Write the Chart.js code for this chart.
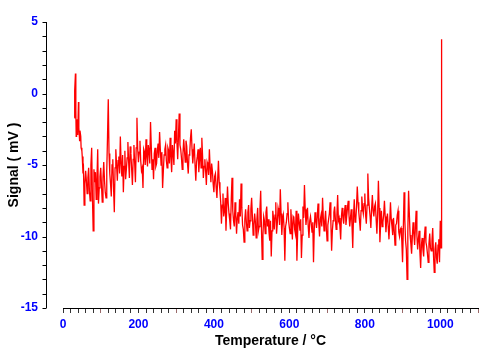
<!DOCTYPE html>
<html>
<head>
<meta charset="utf-8">
<script src="https://cdn.jsdelivr.net/npm/chart.js@4/dist/chart.umd.min.js"></script>
<style>
	html, body { margin: 0; padding: 0; background: #fff; }
	canvas { display: block; }
</style>
</head>
<body>
<canvas id="chart1" width="500" height="353"></canvas>
<script>
// Temperature (°C)
const temperature = [
	30, 31, 33, 34, 35, 36, 38, 39, 41, 42, 44, 45, 47, 48, 50, 51, 53, 54, 56, 58,
	60, 62, 64, 66, 68, 70, 72, 74, 76, 78, 80, 82, 84, 86, 88, 90, 92, 94, 96, 98,
	100, 102, 104, 106, 108, 110, 112, 114, 116, 118, 120, 122, 124, 126, 128, 130, 132, 134, 136, 138,
	140, 142, 144, 146, 148, 150, 152, 154, 156, 158, 160, 162, 164, 166, 168, 170, 172, 174, 176, 178,
	180, 182, 184, 186, 188, 190, 192, 194, 196, 198, 200, 202, 204, 206, 208, 210, 212, 214, 216, 218,
	220, 222, 224, 226, 228, 230, 232, 234, 236, 238, 240, 242, 244, 246, 248, 250, 252, 254, 256, 258,
	260, 262, 264, 266, 268, 270, 272, 274, 276, 278, 280, 282, 284, 286, 288, 290, 292, 294, 296, 298,
	300, 302, 304, 306, 308, 310, 312, 314, 316, 318, 320, 322, 324, 326, 328, 330, 332, 334, 336, 338,
	340, 342, 344, 346, 348, 350, 352, 354, 356, 358, 360, 362, 364, 366, 368, 370, 372, 374, 376, 378,
	380, 382, 384, 386, 388, 390, 392, 394, 396, 398, 400, 402, 404, 406, 408, 410, 412, 414, 416, 418,
	420, 422, 424, 426, 428, 430, 432, 434, 436, 438, 440, 442, 444, 446, 448, 450, 452, 454, 456, 458,
	460, 462, 464, 466, 468, 470, 472, 474, 476, 478, 480, 482, 484, 486, 488, 490, 492, 494, 496, 498,
	500, 502, 504, 506, 508, 510, 512, 514, 516, 518, 520, 522, 524, 526, 528, 530, 532, 534, 536, 538,
	540, 542, 544, 546, 548, 550, 552, 554, 556, 558, 560, 562, 564, 566, 568, 570, 572, 574, 576, 578,
	580, 582, 584, 586, 588, 590, 592, 594, 596, 598, 600, 602, 604, 606, 608, 610, 612, 614, 616, 618,
	620, 622, 624, 626, 628, 630, 632, 634, 636, 638, 640, 642, 644, 646, 648, 650, 652, 654, 656, 658,
	660, 662, 664, 666, 668, 670, 672, 674, 676, 678, 680, 682, 684, 686, 688, 690, 692, 694, 696, 698,
	700, 702, 704, 706, 708, 710, 712, 714, 716, 718, 720, 722, 724, 726, 728, 730, 732, 734, 736, 738,
	740, 742, 744, 746, 748, 750, 752, 754, 756, 758, 760, 762, 764, 766, 768, 770, 772, 774, 776, 778,
	780, 782, 784, 786, 788, 790, 792, 794, 796, 798, 800, 802, 804, 806, 808, 810, 812, 814, 816, 818,
	820, 822, 824, 826, 828, 830, 832, 834, 836, 838, 840, 842, 844, 846, 848, 850, 852, 854, 856, 858,
	860, 862, 864, 866, 868, 870, 872, 874, 876, 878, 880, 882, 884, 886, 888, 890, 892, 894, 896, 898,
	900, 902, 904, 906, 908, 910, 912, 914, 916, 918, 920, 922, 924, 926, 928, 930, 932, 934, 936, 938,
	940, 942, 944, 946, 948, 950, 952, 954, 956, 958, 960, 962, 964, 966, 968, 970, 972, 974, 976, 978,
	980, 982, 984, 986, 988, 990, 992, 994, 996, 998, 1000,
	1002, 1003, 1004
];

// Signal (mV), same order as temperature
const signal = [
	-1.7, 0.2, 1.4, -1.2, -3.0, -2.2, -1.8, -2.9, -0.6, -2.4, -3.3, -2.6, -3.0, -3.8, -4.0, -4.4, -5.6, -4.9, -7.8, -6.3,
	-5.4, -6.1, -7.0, -5.9, -5.2, -6.8, -7.5, -5.0, -3.8, -7.2, -9.6, -5.3, -6.2, -5.5, -7.4, -6.0, -3.9, -7.7, -6.6, -5.8,
	-5.2, -6.4, -7.6, -5.9, -4.8, -6.1, -6.9, -7.3, -5.4, -3.0, -0.4, -4.2, -5.6, -6.3, -7.2, -5.0, -4.6, -6.6, -8.3, -5.2,
	-3.9, -5.0, -6.1, -4.7, -4.4, -5.6, -3.0, -4.9, -5.8, -4.3, -6.9, -5.1, -4.0, -6.0, -5.3, -4.5, -3.4, -4.8, -5.9, -3.7,
	-4.2, -5.3, -6.4, -4.6, -3.6, -4.9, -6.2, -3.8, -1.7, -3.9, -4.8, -4.1, -3.3, -4.7, -5.4, -5.2, -6.6, -3.9, -4.1, -5.0,
	-3.2, -4.4, -5.1, -3.6, -4.0, -4.9, -2.0, -3.7, -5.3, -4.6, -6.0, -4.2, -3.8, -5.1, -4.9, -4.0, -3.5, -4.5, -2.7, -3.9,
	-5.0, -4.1, -6.6, -5.4, -4.3, -3.9, -3.6, -4.7, -5.2, -3.8, -4.0, -4.9, -3.1, -4.4, -5.5, -3.6, -4.2, -5.0, -2.6, -3.5,
	-1.8, -3.4, -4.6, -3.0, -1.4, -3.6, -3.9, -4.5, -5.3, -4.2, -3.2, -4.0, -4.8, -3.3, -3.7, -4.9, -5.6, -4.3, -4.1, -3.1,
	-2.5, -3.9, -4.9, -4.2, -3.5, -5.0, -6.1, -4.8, -4.4, -3.9, -5.5, -4.6, -3.8, -5.2, -3.1, -4.4, -5.9, -5.1, -4.6, -5.4,
	-6.4, -4.8, -5.0, -5.7, -3.9, -5.2, -6.2, -4.9, -5.4, -6.3, -6.9, -5.8, -5.6, -6.6, -7.3, -6.0, -4.7, -6.2, -6.8, -7.6,
	-9.1, -7.8, -7.0, -8.6, -8.2, -7.3, -9.6, -8.0, -6.5, -7.7, -8.4, -8.9, -9.5, -7.4, -5.9, -8.2, -8.9, -9.3, -7.6, -8.5,
	-9.8, -8.7, -8.3, -9.1, -7.4, -8.6, -6.3, -8.0, -9.2, -9.5, -10.4, -8.8, -8.1, -9.0, -9.6, -8.3, -7.8, -9.4, -8.9, -8.1,
	-7.3, -8.6, -9.9, -9.2, -8.4, -9.0, -10.1, -8.8, -8.0, -9.6, -9.3, -8.1, -6.8, -9.4, -11.6, -9.9, -8.6, -8.9, -9.8, -8.3,
	-7.9, -9.3, -8.8, -9.7, -10.3, -8.9, -11.4, -9.6, -8.2, -8.7, -9.5, -8.5, -7.6, -9.8, -9.1, -8.0, -8.3, -9.2, -6.7, -8.4,
	-9.9, -8.8, -8.5, -9.4, -11.7, -9.3, -9.0, -8.4, -7.6, -8.9, -9.4, -9.8, -8.1, -9.1, -10.2, -8.6, -8.7, -9.5, -9.8, -8.2,
	-11.7, -9.7, -8.4, -9.0, -9.6, -8.8, -11.5, -9.9, -7.9, -8.7, -6.4, -8.1, -9.2, -8.6, -8.0, -9.3, -10.1, -8.9, -8.6, -9.1,
	-9.7, -9.0, -11.8, -9.5, -8.3, -8.9, -9.4, -8.6, -7.7, -9.1, -10.0, -8.8, -8.5, -9.3, -7.3, -8.7, -9.6, -8.9, -8.2, -9.4,
	-10.3, -9.2, -8.8, -8.4, -7.6, -9.0, -11.0, -9.6, -8.9, -8.3, -7.9, -8.8, -9.5, -8.5, -7.1, -8.9, -8.7, -9.3, -10.2, -8.6,
	-8.0, -8.7, -9.1, -8.3, -7.8, -9.2, -8.6, -8.0, -7.5, -8.5, -9.3, -8.7, -8.1, -9.2, -10.8, -8.6, -7.4, -9.0, -8.9, -7.9,
	-6.5, -7.6, -8.3, -8.9, -9.6, -8.2, -7.2, -8.0, -8.4, -7.7, -7.0, -8.5, -9.1, -7.8, -5.6, -7.3, -8.0, -8.6, -9.4, -8.1,
	-7.1, -8.2, -8.6, -7.9, -7.7, -8.8, -9.8, -8.4, -6.1, -8.0, -10.4, -9.1, -8.2, -9.3, -9.0, -8.5, -7.5, -8.6, -9.7, -8.8,
	-8.4, -9.3, -10.2, -9.0, -7.6, -8.8, -9.3, -9.9, -8.7, -9.6, -10.6, -9.2, -9.1, -8.5, -8.2, -9.7, -10.0, -9.5, -9.4, -10.3,
	-11.8, -9.6, -6.9, -8.8, -10.3, -10.9, -13.0, -9.7, -6.8, -8.4, -9.9, -10.5, -11.2, -10.0, -9.0, -9.8, -10.6, -9.4, -8.2, -9.9,
	-10.9, -10.2, -9.6, -11.1, -12.2, -10.6, -10.1, -10.9, -11.4, -10.0, -9.3, -10.4, -10.7, -11.2, -11.8, -10.5, -9.8, -10.8, -11.0, -10.3,
	-9.4, -11.3, -12.5, -10.9, -10.4, -11.5, -11.9, -10.6, -10.2, -11.8, -8.9,
	-10.8, -6.8, 3.8
];

// Axis ranges and labelled ticks
const xRange = [0, 1100];
const xLabelEvery = 200;
const xMinorStep = 20;
const yRange = [-15, 5];
const yLabelEvery = 5;
const yMinorStep = 1;

const labelBlue = '#0000ff';
const axisBlack = '#000000';
const fontFamily = "'Liberation Sans', Arial, sans-serif";

(() => {
	'use strict'

	// The y axis line sits a bit left of where the x axis begins,
	// so it is drawn here from the y scale's own ticks
	const yAxisLine = {
		id: 'yAxisLine',
		afterDraw(chart) {
			const { ctx, scales: { y } } = chart;
			const xPos = Math.round(y.right - 17) + 0.5;
			ctx.save();
			ctx.strokeStyle = axisBlack;
			ctx.lineWidth = 1;
			ctx.beginPath();
			ctx.moveTo(xPos, y.top);
			ctx.lineTo(xPos, y.bottom);
			y.ticks.forEach((t) => {
				const py = Math.round(y.getPixelForValue(t.value)) + 0.5;
				ctx.moveTo(xPos - 4, py);
				ctx.lineTo(xPos, py);
			});
			ctx.stroke();
			ctx.restore();
		}
	};

	const points = temperature.map((t, i) => ({ x: t, y: signal[i] }));

	const config = {
		type: 'line',
		data: {
			datasets: [{
				data: points,
				borderColor: '#ff0000',
				borderWidth: 1.3,
				pointRadius: 0,
				tension: 0,
				fill: false
			}]
		},
		options: {
			responsive: false,
			animation: false,
			layout: { padding: { top: 22, right: 22, left: 0, bottom: 0 } },
			plugins: {
				legend: { display: false },
				tooltip: { enabled: false }
			},
			scales: {
				x: {
					type: 'linear',
					min: xRange[0],
					max: xRange[1],
					afterFit: (scale) => { scale.height = 45; },
					border: { display: true, color: axisBlack, width: 1 },
					grid: {
						drawOnChartArea: false,
						drawTicks: true,
						tickLength: 5,
						tickColor: (ctx) => {
							const v = ctx.tick ? ctx.tick.value : 0;
							return (v % 100 === 0 && v % 200 !== 0) ? '#9a6a6a' : '#333333';
						}
					},
					ticks: {
						stepSize: xMinorStep,
						autoSkip: false,
						maxRotation: 0,
						padding: 4,
						color: labelBlue,
						font: { family: fontFamily, size: 12, weight: 'bold' },
						callback: (v) => (v % xLabelEvery === 0 ? v : '')
					},
					title: {
						display: true,
						text: 'Temperature / °C',
						color: axisBlack,
						font: { family: fontFamily, size: 14, weight: 'bold' },
						padding: { top: 0, bottom: 3 }
					}
				},
				y: {
					type: 'linear',
					min: yRange[0],
					max: yRange[1],
					afterFit: (scale) => { scale.width = 63; },
					border: { display: false },
					// tick marks are left to the plugin; the long clear tick only spaces the labels
					grid: {
						display: true,
						drawOnChartArea: false,
						drawTicks: true,
						tickLength: 21,
						tickColor: 'rgba(0,0,0,0)'
					},
					ticks: {
						stepSize: yMinorStep,
						autoSkip: false,
						padding: 4,
						color: labelBlue,
						font: { family: fontFamily, size: 12, weight: 'bold' },
						callback: (v) => (v % yLabelEvery === 0 ? v : '')
					},
					title: {
						display: true,
						text: 'Signal ( mV )',
						color: axisBlack,
						font: { family: fontFamily, size: 14, weight: 'bold' },
						padding: { top: 6, bottom: 0 }
					}
				}
			}
		},
		plugins: [yAxisLine]
	};

	const chart1 = document.getElementById('chart1');
	const myChart1 = new Chart(chart1, config);
})()
</script>
</body>
</html>
